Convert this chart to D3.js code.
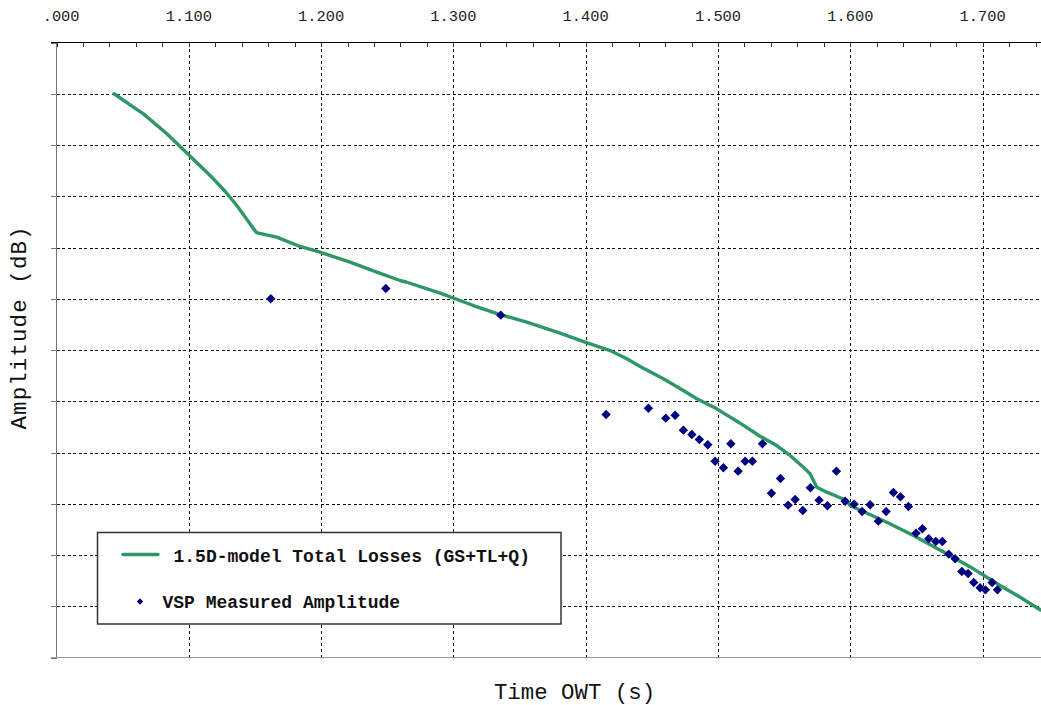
<!DOCTYPE html>
<html>
<head>
<meta charset="utf-8">
<script src="https://cdn.jsdelivr.net/npm/d3@7"></script>
<style>
  html, body { margin: 0; padding: 0; background: #fff; }
  svg { display: block; }
  text { font-family: "Liberation Mono", "DejaVu Sans Mono", monospace; }
</style>
</head>
<body>
<div id="chart"></div>
<script>
// ---- data (time OWT in s, amplitude in dB) ----
const modelTime = [1.0435,1.0581,1.0657,1.0834,1.0997,1.1186,1.1274,1.1363,1.1509,1.1526,1.1665,1.1841,1.1992,1.2219,1.2421,1.2597,1.2648,1.2900,1.3151,1.3353,1.3555,1.3806,1.3995,1.4184,1.4311,1.4411,1.4587,1.4738,1.4840,1.4991,1.5167,1.5318,1.5444,1.5545,1.5645,1.5696,1.5747,1.5822,1.5973,1.5998,1.6276,1.6477,1.6729,1.6930,1.7132,1.7284,1.7435];
const modelAmp  = [-25.00,-26.31,-26.96,-28.91,-30.93,-33.30,-34.51,-35.90,-38.51,-38.60,-38.99,-39.90,-40.46,-41.43,-42.41,-43.22,-43.39,-44.46,-45.66,-46.54,-47.29,-48.36,-49.24,-50.05,-50.86,-51.61,-52.81,-53.95,-54.76,-55.74,-57.14,-58.41,-59.32,-60.29,-61.43,-62.08,-63.39,-63.87,-64.68,-65.17,-66.80,-68.10,-69.88,-71.35,-72.98,-74.12,-75.35];

const vspTime = [1.1620,1.2489,1.3358,1.4154,1.4474,1.4605,1.4676,1.4738,1.4802,1.4859,1.4923,1.4978,1.5041,1.5097,1.5152,1.5205,1.5260,1.5336,1.5404,1.5472,1.5530,1.5583,1.5641,1.5698,1.5764,1.5827,1.5895,1.5961,1.6029,1.6089,1.6150,1.6212,1.6271,1.6326,1.6379,1.6439,1.6497,1.6545,1.6593,1.6646,1.6696,1.6744,1.6792,1.6843,1.6890,1.6933,1.6981,1.7021,1.7072,1.7112];
const vspAmp  = [-45.00,-44.00,-46.60,-56.29,-55.68,-56.65,-56.36,-57.82,-58.24,-58.73,-59.25,-60.85,-61.49,-59.15,-61.82,-60.85,-60.85,-59.15,-63.97,-62.54,-65.14,-64.59,-65.66,-63.44,-64.65,-65.20,-61.82,-64.75,-65.04,-65.76,-65.10,-66.70,-65.76,-63.90,-64.32,-65.27,-67.87,-67.44,-68.42,-68.68,-68.68,-69.92,-70.37,-71.61,-71.80,-72.68,-73.20,-73.40,-72.68,-73.40];

const xMajorTicks = [1.0,1.1,1.2,1.3,1.4,1.5,1.6,1.7];
const xTickLabels = ["1.000","1.100","1.200","1.300","1.400","1.500","1.600","1.700"];
const xMinorTicks = d3.range(0, 38).map(i => 1.0 + i * 0.02);
const yTicks = d3.range(-80, -19, 5);

const seriesNames = ["1.5D-model Total Losses (GS+TL+Q)", "VSP Measured Amplitude"];
const xTitle = "Time OWT (s)";
const yTitle = "Amplitude (dB)";

(function () {
// ---- layout ----
const W = 1041, H = 705;
const pL = 56.5, pT = 42.5, pB = 657.5, pR = 1041;
const green = "#2e9766", navy = "#000080";

const svg = d3.select("#chart").append("svg").attr("width", W).attr("height", H);

const x = d3.scaleLinear().domain([1.0, 1.75]).range([pL, pL + 0.75 * 1323]);
const y = d3.scaleLinear().domain([-80, -20]).range([pB, pT]);

const defs = svg.append("defs");
defs.append("clipPath").attr("id", "plotclip")
  .append("rect").attr("x", pL).attr("y", pT - 5).attr("width", pR - pL).attr("height", pB - pT + 10);
defs.append("clipPath").attr("id", "labelclip")
  .append("rect").attr("x", 42.5).attr("y", 0).attr("width", W).attr("height", 40);

// gridlines
const grid = svg.append("g").attr("shape-rendering", "crispEdges");
grid.selectAll("line.v").data(xMajorTicks.slice(1)).join("line").attr("class", "v")
  .attr("x1", d => Math.round(x(d)) + 0.5).attr("x2", d => Math.round(x(d)) + 0.5)
  .attr("y1", pT).attr("y2", pB)
  .attr("stroke", "#111").attr("stroke-dasharray", "3,3");
grid.selectAll("line.h").data(yTicks.slice(1, -1)).join("line").attr("class", "h")
  .attr("x1", pL).attr("x2", pR)
  .attr("y1", d => Math.round(y(d)) + 0.5).attr("y2", d => Math.round(y(d)) + 0.5)
  .attr("stroke", "#111").attr("stroke-dasharray", "3,2.5");

// left axis (gray) with outward ticks
const leftAxis = d3.axisLeft(y).tickValues(yTicks).tickSize(6).tickFormat("");
const gl = svg.append("g").attr("transform", `translate(${pL},0)`).call(leftAxis);
gl.select(".domain").remove();
gl.selectAll(".tick line").attr("stroke", "#777").attr("shape-rendering", "crispEdges");
svg.append("line").attr("x1", pL).attr("x2", pL).attr("y1", pT).attr("y2", pB)
  .attr("stroke", "#777").attr("shape-rendering", "crispEdges");
svg.append("line").attr("x1", pL - 6).attr("x2", pR).attr("y1", pB).attr("y2", pB)
  .attr("stroke", "#999").attr("shape-rendering", "crispEdges");

// top axis (black) with inward ticks
const topMinor = d3.axisTop(x).tickValues(xMinorTicks).tickSize(-4).tickFormat("");
const gt = svg.append("g").attr("transform", `translate(0,${pT})`).call(topMinor);
gt.select(".domain").remove();
gt.selectAll(".tick line").attr("stroke", "#333").attr("shape-rendering", "crispEdges");
svg.append("line").attr("x1", pL - 6).attr("x2", pR).attr("y1", pT).attr("y2", pT)
  .attr("stroke", "#000").attr("shape-rendering", "crispEdges");

const labels = svg.append("g").attr("clip-path", "url(#labelclip)");
labels.selectAll("text").data(xMajorTicks).join("text")
  .attr("x", d => x(d)).attr("y", 21)
  .attr("text-anchor", "middle")
  .attr("font-size", "15.4px").attr("fill", "#222")
  .text((d, i) => xTickLabels[i]);

// model line
const plot = svg.append("g").attr("clip-path", "url(#plotclip)");
const lineData = modelTime.map((t, i) => [t, modelAmp[i]]);
plot.append("path").datum(lineData)
  .attr("fill", "none").attr("stroke", green).attr("stroke-width", 3.4)
  .attr("stroke-linejoin", "round").attr("stroke-linecap", "round")
  .attr("d", d3.line().x(d => x(d[0])).y(d => y(d[1])));

// VSP points
const diamond = d3.symbol().type(d3.symbolSquare).size(44);
plot.selectAll("path.pt").data(vspTime.map((t, i) => [t, vspAmp[i]])).join("path")
  .attr("class", "pt")
  .attr("d", diamond)
  .attr("transform", d => `translate(${x(d[0])},${y(d[1])}) rotate(45)`)
  .attr("fill", navy);

// legend
const lg = svg.append("g");
lg.append("rect").attr("x", 97.5).attr("y", 532.5).attr("width", 463.5).attr("height", 91.5)
  .attr("fill", "#fff").attr("stroke", "#333").attr("stroke-width", 1.5);
lg.append("line").attr("x1", 123).attr("x2", 158).attr("y1", 554.5).attr("y2", 554.5)
  .attr("stroke", green).attr("stroke-width", 3.4).attr("stroke-linecap", "round");
lg.append("text").attr("x", 173.5).attr("y", 561.5)
  .attr("font-size", "18px").attr("font-weight", "bold").attr("fill", "#111")
  .text(seriesNames[0]);
lg.append("path").attr("d", d3.symbol().type(d3.symbolSquare).size(20))
  .attr("transform", "translate(140,601.5) rotate(45)").attr("fill", navy);
lg.append("text").attr("x", 162.5).attr("y", 607.5)
  .attr("font-size", "18px").attr("font-weight", "bold").attr("fill", "#111")
  .text(seriesNames[1]);

// axis titles
svg.append("text").attr("x", 574.5).attr("y", 699)
  .attr("text-anchor", "middle").attr("font-size", "22.4px").attr("fill", "#111")
  .text(xTitle);
svg.append("text").attr("transform", "translate(26,328) rotate(-90)")
  .attr("text-anchor", "middle").attr("font-size", "22.4px").attr("fill", "#111")
  .attr("textLength", 203).attr("lengthAdjust", "spacing")
  .text(yTitle);
})();
</script>
</body>
</html>
